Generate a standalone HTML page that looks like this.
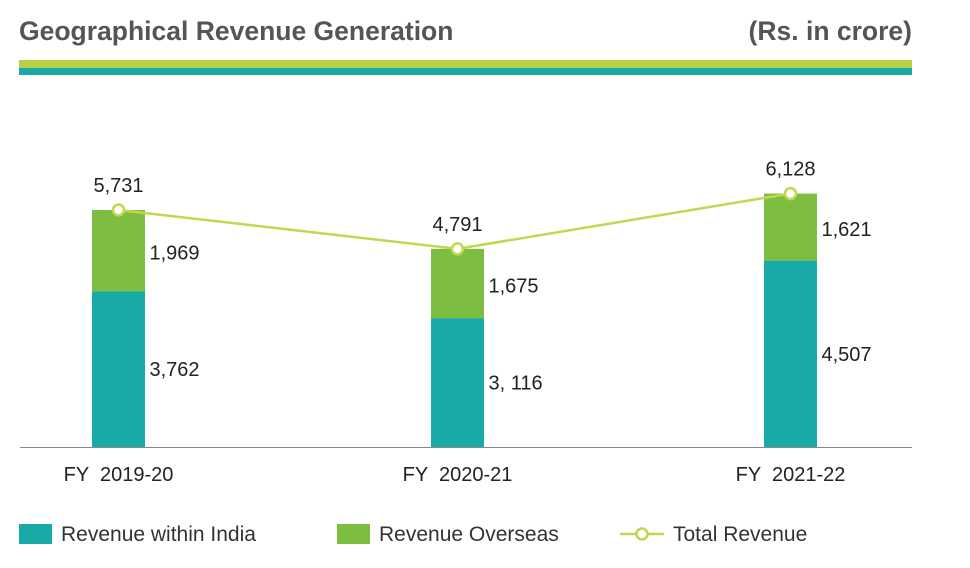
<!DOCTYPE html>
<html><head><meta charset="utf-8"><style>
body{margin:0;background:#fff;width:970px;height:563px;overflow:hidden;font-family:"Liberation Sans",sans-serif;}
svg text{font-family:"Liberation Sans",sans-serif;white-space:pre;}
</style></head><body>
<svg id="chart" width="970" height="563">
<text x="19" y="40" font-size="26.5" font-weight="bold" fill="#555">Geographical Revenue Generation</text>
<text x="912" y="40" font-size="26.5" font-weight="bold" fill="#555" text-anchor="end">(Rs. in crore)</text>
<rect x="19" y="60" width="893" height="8" fill="#b6cf45"/>
<rect x="19" y="68" width="893" height="7" fill="#17aaa6"/>
<line x1="20" y1="447.5" x2="912" y2="447.5" stroke="#888" stroke-width="1"/>
<g id="marks"></g>
<g>
<rect x="19" y="524" width="33" height="20" fill="#17aaa6"/>
<text x="61" y="541" font-size="21" fill="#333">Revenue within India</text>
<rect x="337" y="524" width="33" height="20" fill="#7dbd42"/>
<text x="379" y="541" font-size="21" fill="#333">Revenue Overseas</text>
<line x1="620" y1="534" x2="664" y2="534" stroke="#c2d74e" stroke-width="2.5"/>
<circle cx="642" cy="534" r="5.5" fill="#fff" stroke="#c2d74e" stroke-width="2.5"/>
<text x="673" y="541" font-size="21" fill="#333">Total Revenue</text>
</g>
</svg>
<script>
const categories=["FY  2019-20","FY  2020-21","FY  2021-22"];
const india=[3762,3116,4507];
const overseas=[1969,1675,1621];
const totalLabels=["5,731","4,791","6,128"];
const indiaLabels=["3,762","3, 116","4,507"];
const overseasLabels=["1,969","1,675","1,621"];
const NS="http://www.w3.org/2000/svg";
const g=document.getElementById('marks');
const base=447,k=237/5731;
const y=v=>base-v*k;
const xc=i=>118.5+i*336+(i===1?3:0);
const bw=53;
function mk(t,a){const e=document.createElementNS(NS,t);for(const n in a)e.setAttribute(n,a[n]);g.appendChild(e);return e;}
let pts=[];
categories.forEach((c,i)=>{
  const tot=india[i]+overseas[i];
  const r1=mk('rect',{x:xc(i)-bw/2,y:y(india[i]),width:bw,height:base-y(india[i]),fill:'#17aaa6'});
  
  
  const r2=mk('rect',{x:xc(i)-bw/2,y:y(tot),width:bw,height:y(india[i])-y(tot),fill:'#7dbd42'});
  
  
  const t1=mk('text',{x:xc(i)+31,y:(y(india[i])+base)/2+7,'font-size':20,fill:'#222'});t1.textContent=indiaLabels[i];
  
  
  const t2=mk('text',{x:xc(i)+31,y:(y(tot)+y(india[i]))/2+9,'font-size':20,fill:'#222'});t2.textContent=overseasLabels[i];
  
  
  const t3=mk('text',{x:xc(i),y:y(tot)-18,'font-size':20,fill:'#222','text-anchor':'middle'});t3.textContent=totalLabels[i];
  
  
  const t4=mk('text',{x:xc(i),y:481,'font-size':20,fill:'#222','text-anchor':'middle'});t4.textContent=c;
  
  
  pts.push([xc(i),y(tot)]);
});
const pl=mk('polyline',{points:pts.map(p=>p.join(',')).join(' '),fill:'none',stroke:'#c2d74e','stroke-width':2.5});


pts.forEach((p,i)=>{
  const c=mk('circle',{cx:p[0],cy:p[1],r:5.5,fill:'#fff',stroke:'#c2d74e','stroke-width':2.5});
  
  
});
</script>
</body></html>
